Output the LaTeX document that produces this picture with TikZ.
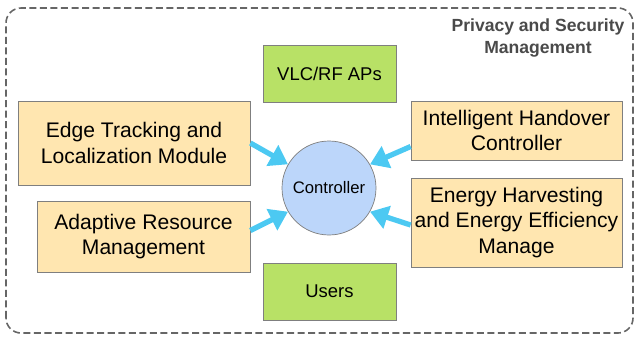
\documentclass[tikz,border=0pt]{standalone}
\usepackage{xcolor}
\usepackage{fontspec}
\setmainfont{Liberation Sans}
\usepackage{tikz}
\usetikzlibrary{shapes,arrows,positioning,calc,arrows.meta}
\definecolor{moduleFill}{HTML}{FFE6B0}
\definecolor{nodeGreen}{HTML}{B8E166}
\definecolor{ctrlFill}{HTML}{BCD6FA}
\definecolor{arrowCyan}{HTML}{4CC9F2}
\definecolor{edgeGray}{HTML}{7F7F7F}
\definecolor{titleGray}{HTML}{4A4A4A}
\tikzset{
  moduleBox/.style={
    rectangle,
    draw=edgeGray,
    fill=moduleFill,
    align=center,
    inner sep=0pt,
    font=\fontsize{12}{14.6}\selectfont
  },
  netBox/.style={
    rectangle,
    draw=edgeGray,
    fill=nodeGreen,
    minimum width=2.66cm,
    minimum height=1.14cm,
    align=center,
    font=\fontsize{10.5}{13}\selectfont
  },
  ctrlCircle/.style={
    circle,
    draw=edgeGray,
    fill=ctrlFill,
    minimum size=1.88cm,
    inner sep=0pt,
    font=\fontsize{9.5}{12}\selectfont
  },
  feedArrow/.style={
    -{Triangle[length=3.6mm,width=4.6mm]},
    draw=arrowCyan,
    line width=3pt
  },
  groupFrame/.style={
    draw=edgeGray!80!black,
    dashed,
    dash pattern=on 4pt off 2pt,
    line width=0.9pt,
    rounded corners=0.3cm
  }
}

\begin{document}
\begin{tikzpicture}
        \useasboundingbox (0,0) rectangle (12.68,6.74);
        \draw[groupFrame] (0.12,0.08) rectangle (12.66,6.58);
        \node[font=\bfseries\fontsize{10}{12}\selectfont, align=center, text=titleGray] (privacy) at (10.76,5.98) {Privacy and Security\\Management};

        \node[ctrlCircle] (ctrl) at (6.58,2.98) {Controller};
        \node[netBox] (aps) at (6.59,5.27) {VLC/RF APs};
        \node[netBox] (users) at (6.59,0.91) {Users};

        \node[moduleBox, minimum width=4.64cm, minimum height=1.68cm] (edge) at (2.68,3.88) {Edge Tracking and\\Localization Module};
        \node[moduleBox, minimum width=4.26cm, minimum height=1.42cm] (adapt) at (2.87,2.01) {Adaptive Resource\\Management};
        \node[moduleBox, minimum width=4.22cm, minimum height=1.18cm] (handover) at (10.33,4.13) {Intelligent Handover\\Controller};
        \node[moduleBox, minimum width=4.22cm, minimum height=1.78cm] (energy) at (10.33,2.29) {Energy Harvesting\\and Energy Efficiency\\Manage};

        \draw[feedArrow] (edge.east) -- (ctrl.150);
        \draw[feedArrow] ([yshift=0.12cm]adapt.east) -- (ctrl.210);
        \draw[feedArrow] ([yshift=-0.32cm]handover.west) -- (ctrl.30);
        \draw[feedArrow] ([yshift=-0.05cm]energy.west) -- (ctrl.330);
    \end{tikzpicture}
\end{document}
